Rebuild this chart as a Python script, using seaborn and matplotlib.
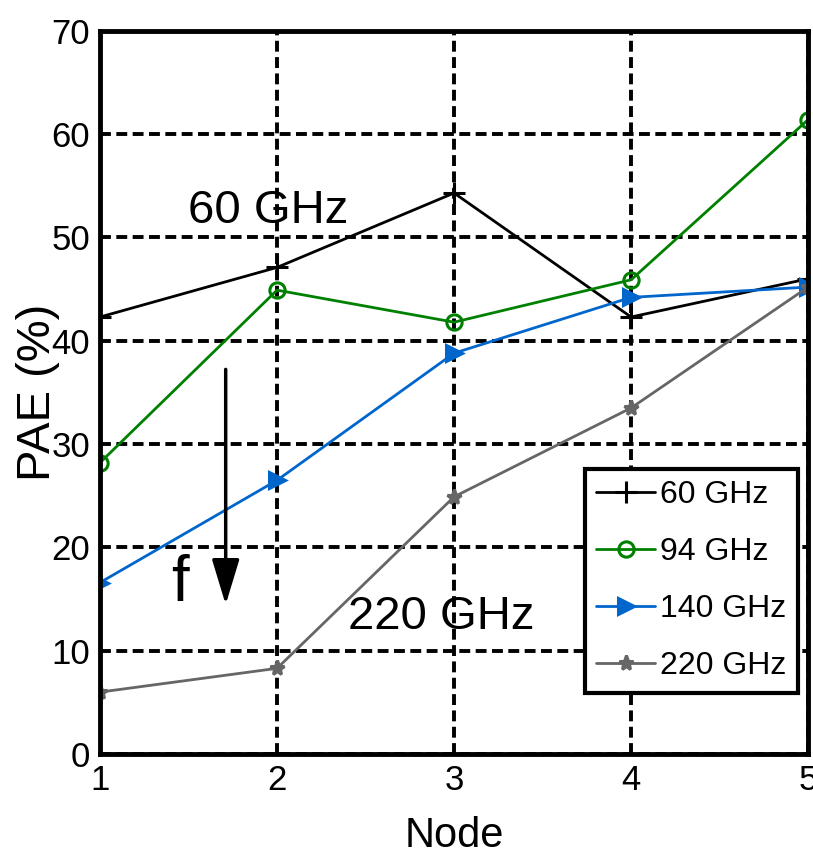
import numpy as np
import pandas as pd
import matplotlib
matplotlib.use("Agg")
import matplotlib.pyplot as plt
import seaborn as sns

# Data
nodes = [1, 2, 3, 4, 5]
pae_60 = [42.3, 47.1, 54.3, 42.3, 46.0]
pae_94 = [28.2, 44.9, 41.8, 45.9, 61.4]
pae_140 = [16.6, 26.5, 38.8, 44.2, 45.2]
pae_220 = [6.0, 8.3, 24.9, 33.5, 45.2]
labels = ["60 GHz", "94 GHz", "140 GHz", "220 GHz"]

sns.set_style("white")
plt.rcParams['font.family'] = ['Liberation Sans', 'DejaVu Sans']
plt.rcParams['text.color'] = 'black'
plt.rcParams['axes.labelcolor'] = 'black'
plt.rcParams['xtick.color'] = 'black'
plt.rcParams['ytick.color'] = 'black'

df = pd.DataFrame({
    "Node": nodes * 4,
    "PAE": pae_60 + pae_94 + pae_140 + pae_220,
    "freq": sum([[l] * len(nodes) for l in labels], []),
})

colors = ["black", "#008000", "#0066CC", "#666666"]
markers = ["+", "o", ">", "*"]
msizes = [16, 11, 12, 11]

fig = plt.figure(figsize=(8.13, 8.55), dpi=100)
ax = fig.add_axes([0.123, 0.118, 0.871, 0.846])

for lab, c, m, ms in zip(labels, colors, markers, msizes):
    sub = df[df.freq == lab]
    kw = dict(markerfacecolor="none", markeredgewidth=2.2) if m == "o" else dict(markeredgewidth=2.2)
    sns.lineplot(data=sub, x="Node", y="PAE", ax=ax, color=c, marker=m,
                 markersize=ms, linewidth=2, label=lab, markeredgecolor=c, **kw)

ax.set_xlim(1, 5)
ax.set_ylim(0, 70)
ax.set_xticks(nodes)
ax.set_yticks(range(0, 71, 10))
ax.grid(True, color="black", linestyle=(0, (2.8, 1.4)), linewidth=2.8)
ax.set_axisbelow(True)
for s in ax.spines.values():
    s.set_linewidth(3.5)
    s.set_color("black")
ax.tick_params(axis="both", labelsize=25, length=0, pad=7)
ax.set_xlabel("Node", fontsize=30)
ax.set_ylabel("PAE (%)", fontsize=34)
ax.xaxis.set_label_coords(0.5, -0.085)
ax.yaxis.set_label_coords(-0.056, 0.5)

ax.text(1.95, 52.6, "60 GHz", fontsize=34, ha="center", va="center")
ax.text(2.93, 13.3, "220 GHz", fontsize=34, ha="center", va="center")
ax.text(1.45, 16.5, "f", fontsize=46, ha="center", va="center")
ax.annotate("", xy=(1.71, 14.2), xytext=(1.71, 37.5),
            arrowprops=dict(arrowstyle="-|>,head_length=2.8,head_width=0.85",
                            color="black", lw=2.5))

leg = ax.legend(loc="lower right", bbox_to_anchor=(0.985, 0.085), fontsize=23,
                frameon=True, fancybox=False, edgecolor="black",
                handlelength=1.85, handletextpad=0.15, borderpad=0.35,
                labelspacing=0.85, borderaxespad=0)
leg.get_frame().set_linewidth(3)
leg.get_frame().set_alpha(1)

fig.savefig("out.png", dpi=100)
